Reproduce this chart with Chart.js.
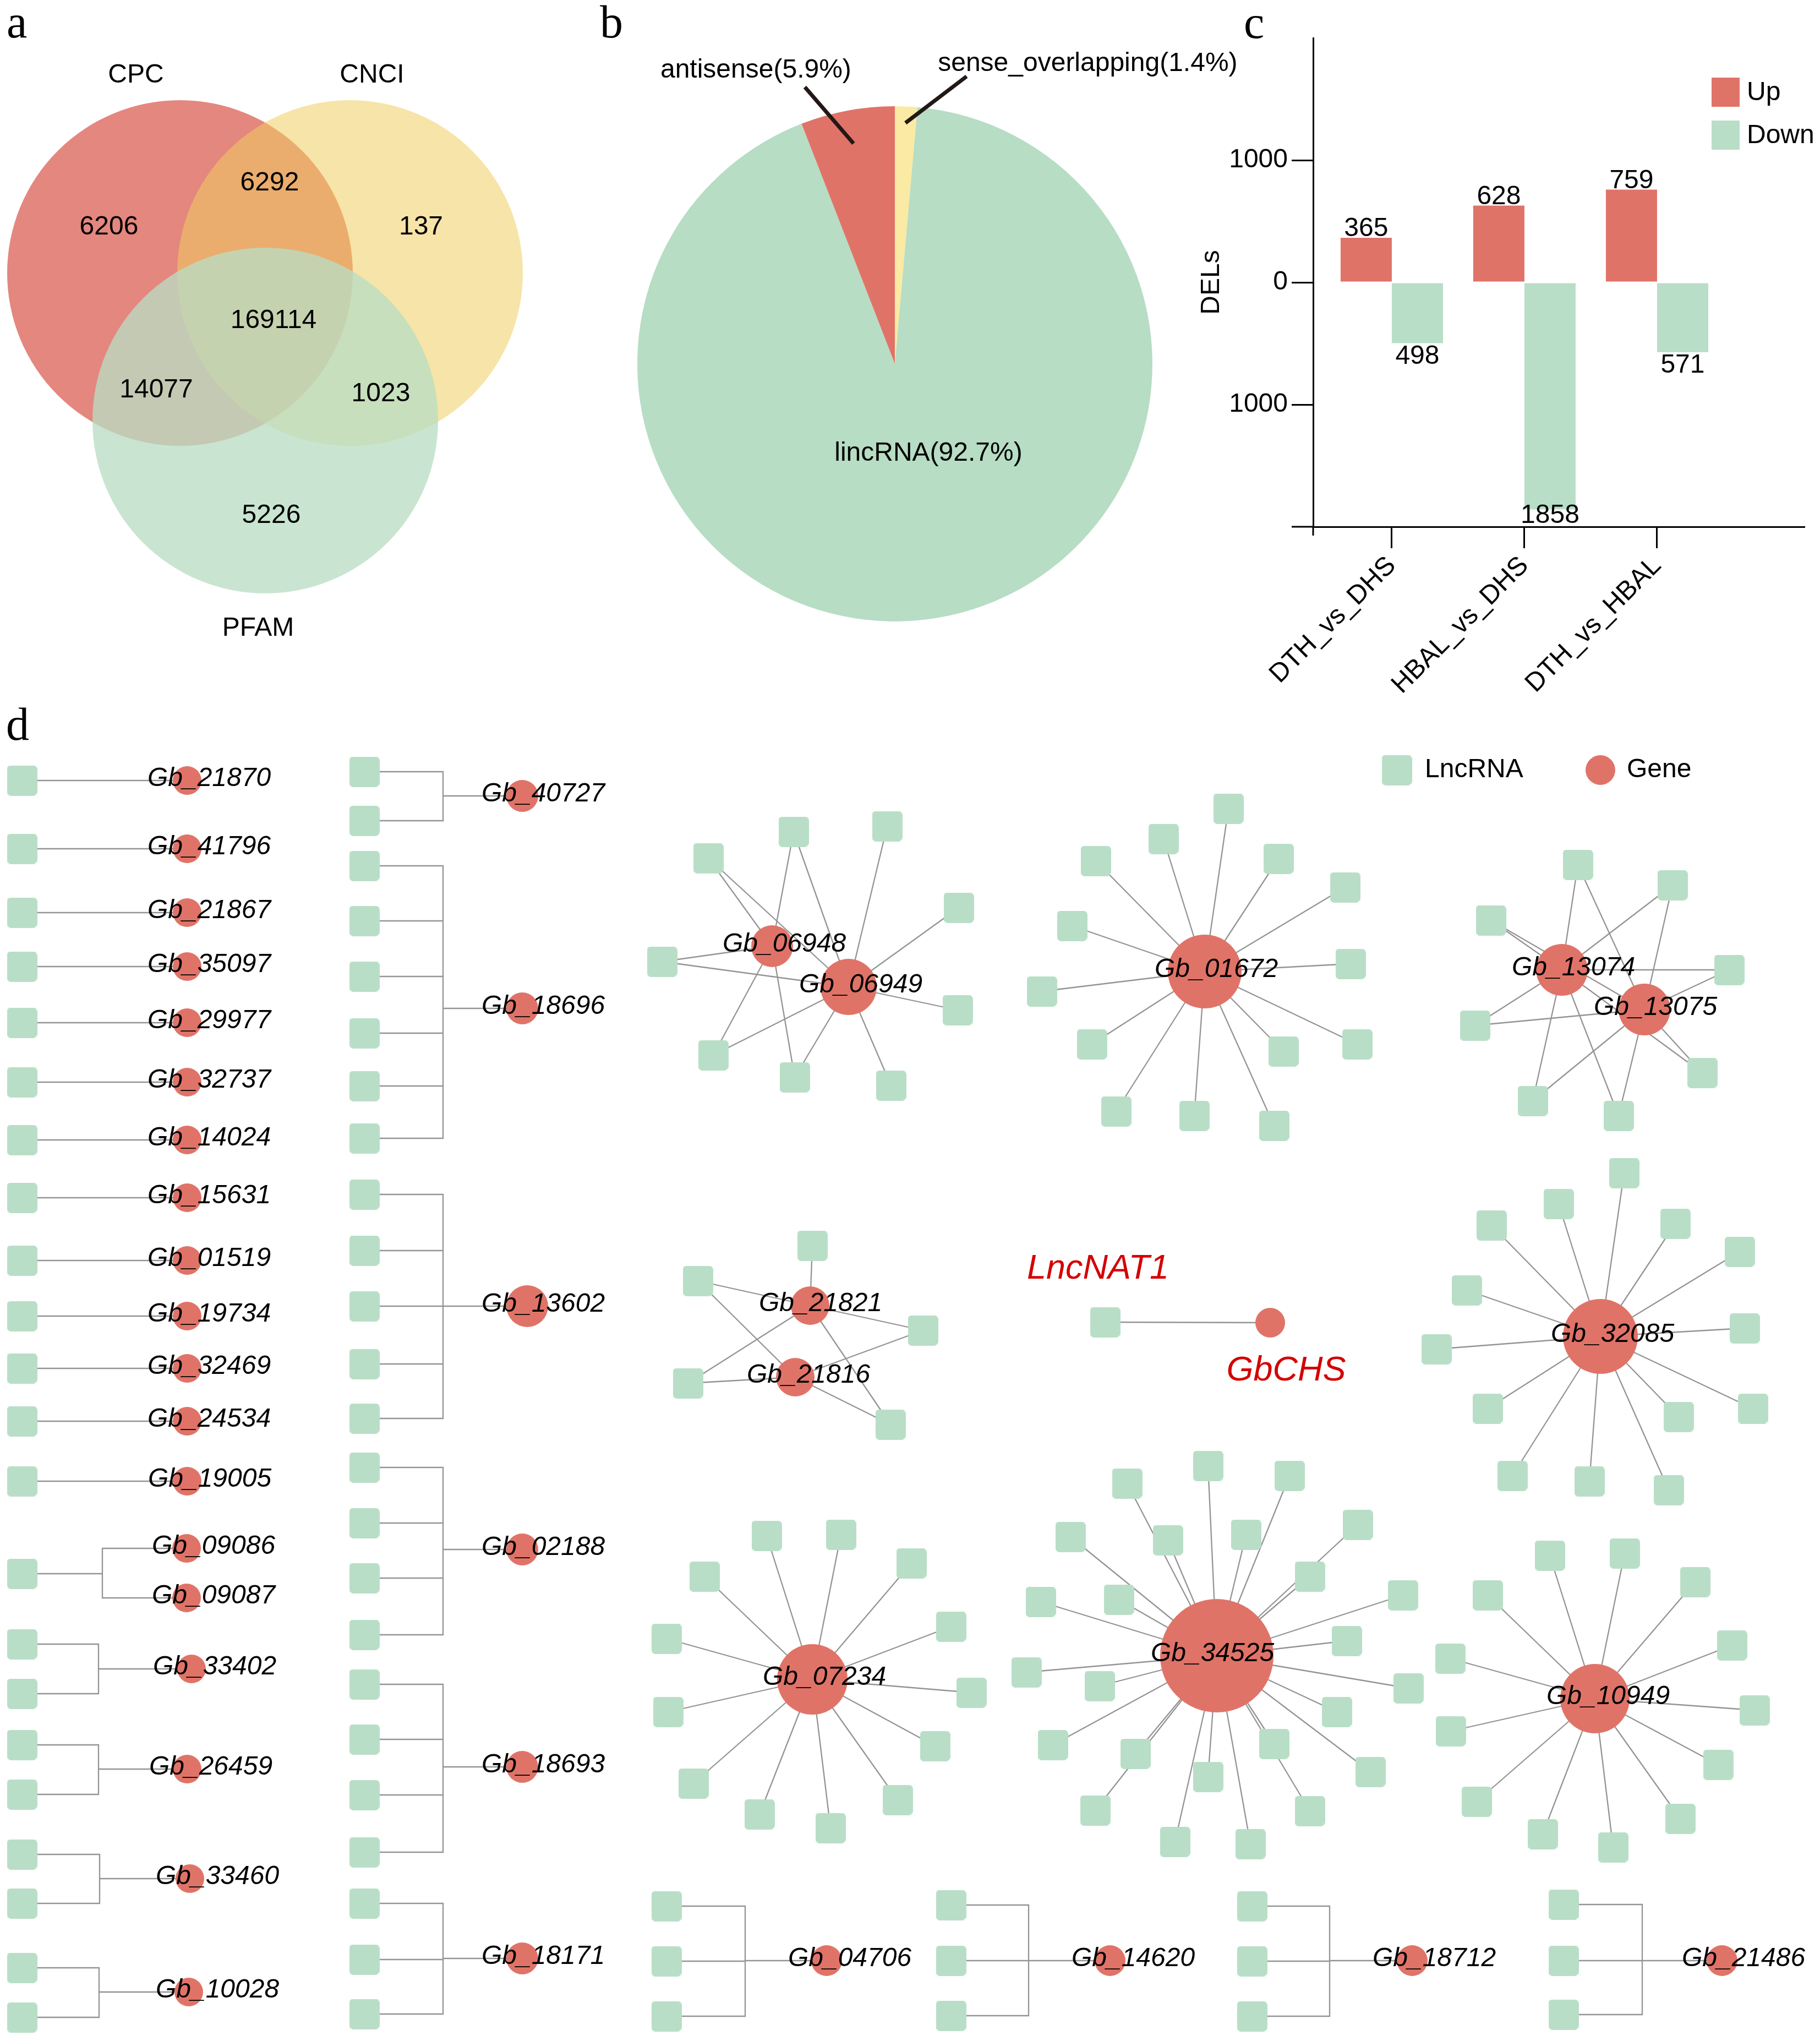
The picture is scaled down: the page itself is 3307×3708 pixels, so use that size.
<!DOCTYPE html>
<html>
<head>
<meta charset="utf-8">
<script src="https://cdn.jsdelivr.net/npm/chart.js@4.4.1/dist/chart.umd.min.js"></script>
<style>
  html, body { margin: 0; padding: 0; background: #fff; }
  #page { position: relative; width: 3307px; height: 3708px; overflow: hidden; background: #fff; }
  #page canvas { position: absolute; }
  .tag { position: absolute; font-family: "Liberation Serif", "Times New Roman", serif; font-size: 84px; line-height: 84px; color: #000; }
</style>
</head>
<body>
<div id="page">
  <canvas id="venn" width="1090" height="1275" style="left:0;top:0;width:1090px;height:1275px"></canvas>
  <canvas id="pie" width="1210" height="1275" style="left:1090px;top:0;width:1210px;height:1275px"></canvas>
  <canvas id="bar" width="1167" height="1275" style="left:2140px;top:0;width:1167px;height:1275px"></canvas>
  <canvas id="net" width="3307" height="2433" style="left:0;top:1275px;width:3307px;height:2433px"></canvas>
  <div class="tag" style="left:12px;top:-2px">a</div>
  <div class="tag" style="left:1090px;top:-2px">b</div>
  <div class="tag" style="left:2260px;top:-1px">c</div>
  <div class="tag" style="left:11px;top:1274px">d</div>
</div>
<script>
// ---------- data ----------
// a: Venn
const vennSets = ['CPC', 'CNCI', 'PFAM'];
const vennRegions = ['CPC', 'CPC+CNCI', 'CNCI', 'CPC+CNCI+PFAM', 'CPC+PFAM', 'CNCI+PFAM', 'PFAM'];
const vennCounts = [6206, 6292, 137, 169114, 14077, 1023, 5226];

// b: lncRNA classes
const pieLabels = ['sense_overlapping', 'lincRNA', 'antisense'];
const piePercents = [1.4, 92.7, 5.9];

// c: differentially expressed lncRNAs
const comparisons = ['DTH_vs_DHS', 'HBAL_vs_DHS', 'DTH_vs_HBAL'];
const upDELs = [365, 628, 759];
const downDELs = [498, 1858, 571];
const delTicks = [-1000, 0, 1000];

// d: co-expression network (layout units)
// tree groups: gene, gene x, gene y, lncRNA x, elbow x (null = straight), lncRNA y's, node size, label shift
const treeGroups = [
  ['Gb_21870', 340, 1418, 40, null, [1418], 26, 40],
  ['Gb_41796', 340, 1542, 40, null, [1542], 26, 40],
  ['Gb_21867', 340, 1658, 40, null, [1658], 26, 40],
  ['Gb_35097', 340, 1756, 40, null, [1756], 26, 40],
  ['Gb_29977', 340, 1858, 40, null, [1858], 26, 40],
  ['Gb_32737', 340, 1966, 40, null, [1966], 26, 40],
  ['Gb_14024', 340, 2071, 40, null, [2071], 26, 40],
  ['Gb_15631', 340, 2176, 40, null, [2176], 26, 40],
  ['Gb_01519', 340, 2290, 40, null, [2290], 26, 40],
  ['Gb_19734', 340, 2391, 40, null, [2391], 26, 40],
  ['Gb_32469', 340, 2486, 40, null, [2486], 26, 40],
  ['Gb_24534', 340, 2582, 40, null, [2582], 26, 40],
  ['Gb_19005', 340, 2691, 40, null, [2691], 26, 41],
  ['Gb_09086', 339, 2813, 40, 186, [2859], 26, 49],
  ['Gb_09087', 339, 2903, 40, 186, [2859], 26, 49],
  ['Gb_33402', 348, 3032, 40, 179, [2987, 3077], 26, 42],
  ['Gb_26459', 340, 3214, 40, 179, [3170, 3260], 26, 43],
  ['Gb_33460', 345, 3413, 40, 181, [3369, 3458], 26, 50],
  ['Gb_10028', 343, 3619, 40, 180, [3575, 3665], 26, 52],
  ['Gb_40727', 949, 1446, 662, 805, [1402, 1491], 29, 38],
  ['Gb_18696', 949, 1832, 662, 805, [1573, 1673, 1774, 1877, 1973, 2068], 29, 38],
  ['Gb_13602', 958, 2373, 662, 805, [2170, 2272, 2373, 2478, 2577], 38, 29],
  ['Gb_02188', 949, 2815, 662, 805, [2666, 2767, 2867, 2970], 29, 38],
  ['Gb_18693', 949, 3210, 662, 805, [3060, 3160, 3261, 3365], 29, 38],
  ['Gb_18171', 949, 3558, 662, 805, [3458, 3560, 3659], 29, 38],
  ['Gb_04706', 1502, 3562, 1211, 1354, [3463, 3563, 3663], 28, 42],
  ['Gb_14620', 2017, 3562, 1728, 1869, [3461, 3562, 3662], 28, 42],
  ['Gb_18712', 2566, 3562, 2275, 2416, [3463, 3563, 3663], 28, 40],
  ['Gb_21486', 3129, 3562, 2841, 2984, [3460, 3562, 3660], 28, 39]
];

// hub genes: name, x, y, node size, label shift
const hubGenes = [
  ['Gb_06948', 1403, 1719, 38, 22],
  ['Gb_06949', 1542, 1793, 51, 22],
  ['Gb_01672', 2189, 1765, 67, 21],
  ['Gb_13074', 2838, 1762, 47, 21],
  ['Gb_13075', 2988, 1834, 47, 20],
  ['Gb_21821', 1472, 2372, 35, 19],
  ['Gb_21816', 1445, 2502, 35, 24],
  ['GbCHS', 2308, 2403, 27, 0],
  ['Gb_32085', 2908, 2428, 68, 22],
  ['Gb_07234', 1476, 3051, 64, 22],
  ['Gb_34525', 2211, 3008, 103, -8],
  ['Gb_10949', 2898, 3086, 63, 24]
];

// lncRNAs around hubs: x, y, linked genes
const N1 = 'Gb_06948 Gb_06949', N3 = 'Gb_13074 Gb_13075', N4 = 'Gb_21821 Gb_21816';
const hubLncRNAs = [
  [1287, 1559, N1], [1442, 1511, N1], [1612, 1501, 'Gb_06949'], [1742, 1649, 'Gb_06949'],
  [1203, 1747, N1], [1740, 1835, 'Gb_06949'], [1296, 1917, N1], [1444, 1957, N1], [1619, 1972, 'Gb_06949'],

  [2232, 1469, 'Gb_01672'], [2114, 1524, 'Gb_01672'], [2323, 1560, 'Gb_01672'], [1991, 1564, 'Gb_01672'],
  [2444, 1612, 'Gb_01672'], [1948, 1682, 'Gb_01672'], [2454, 1751, 'Gb_01672'], [1893, 1801, 'Gb_01672'],
  [1984, 1897, 'Gb_01672'], [2466, 1897, 'Gb_01672'], [2332, 1910, 'Gb_01672'], [2028, 2019, 'Gb_01672'],
  [2170, 2027, 'Gb_01672'], [2315, 2045, 'Gb_01672'],

  [2867, 1571, N3], [3039, 1608, N3], [2709, 1672, N3], [3142, 1762, N3],
  [2680, 1863, N3], [3093, 1949, N3], [2785, 2000, N3], [2941, 2027, N3],

  [1476, 2263, 'Gb_21821'], [1268, 2327, N4], [1677, 2417, N4], [1250, 2513, N4], [1618, 2588, N4],

  [2008, 2402, 'GbCHS'],

  [2951, 2131, 'Gb_32085'], [2832, 2187, 'Gb_32085'], [2710, 2226, 'Gb_32085'], [3044, 2223, 'Gb_32085'],
  [3161, 2274, 'Gb_32085'], [2665, 2344, 'Gb_32085'], [3170, 2413, 'Gb_32085'], [2610, 2451, 'Gb_32085'],
  [2703, 2559, 'Gb_32085'], [3185, 2559, 'Gb_32085'], [3050, 2574, 'Gb_32085'], [2748, 2681, 'Gb_32085'],
  [2888, 2691, 'Gb_32085'], [3032, 2707, 'Gb_32085'],

  [1393, 2790, 'Gb_07234'], [1528, 2788, 'Gb_07234'], [1280, 2864, 'Gb_07234'], [1656, 2840, 'Gb_07234'],
  [1728, 2955, 'Gb_07234'], [1211, 2977, 'Gb_07234'], [1765, 3075, 'Gb_07234'], [1214, 3110, 'Gb_07234'],
  [1699, 3172, 'Gb_07234'], [1260, 3240, 'Gb_07234'], [1631, 3270, 'Gb_07234'], [1380, 3296, 'Gb_07234'],
  [1509, 3321, 'Gb_07234'],

  [2195, 2663, 'Gb_34525'], [2048, 2695, 'Gb_34525'], [2343, 2681, 'Gb_34525'], [2467, 2770, 'Gb_34525'],
  [1945, 2792, 'Gb_34525'], [2122, 2798, 'Gb_34525'], [2264, 2788, 'Gb_34525'], [2380, 2864, 'Gb_34525'],
  [2549, 2898, 'Gb_34525'], [1891, 2910, 'Gb_34525'], [2033, 2906, 'Gb_34525'], [2447, 2981, 'Gb_34525'],
  [1865, 3038, 'Gb_34525'], [1998, 3063, 'Gb_34525'], [2559, 3067, 'Gb_34525'], [2429, 3110, 'Gb_34525'],
  [1913, 3170, 'Gb_34525'], [2315, 3168, 'Gb_34525'], [2063, 3186, 'Gb_34525'], [2490, 3219, 'Gb_34525'],
  [2195, 3228, 'Gb_34525'], [1990, 3289, 'Gb_34525'], [2380, 3290, 'Gb_34525'], [2135, 3346, 'Gb_34525'],
  [2272, 3350, 'Gb_34525'],

  [2816, 2826, 'Gb_10949'], [2952, 2822, 'Gb_10949'], [2703, 2898, 'Gb_10949'], [3080, 2874, 'Gb_10949'],
  [3147, 2989, 'Gb_10949'], [2635, 3013, 'Gb_10949'], [3188, 3107, 'Gb_10949'], [2636, 3145, 'Gb_10949'],
  [3122, 3206, 'Gb_10949'], [2683, 3273, 'Gb_10949'], [3053, 3304, 'Gb_10949'], [2803, 3332, 'Gb_10949'],
  [2931, 3356, 'Gb_10949']
];
const highlightPair = ['LncNAT1', 'GbCHS'];

// ---------- styles ----------
const FONT = '"Liberation Sans", Arial, sans-serif';
const RED = '#E07368';
const GREEN = '#B9DEC7';
Chart.defaults.font.family = FONT;
Chart.defaults.color = '#000';

const base = {
  responsive: false,
  animation: false,
  devicePixelRatio: 1,
  events: [],
  plugins: { legend: { display: false }, tooltip: { enabled: false } }
};

// pixels per layout unit on a chart's x scale (1 before layout is done)
function unitPx(chart, span) {
  const s = chart.scales && chart.scales.x;
  return s && s.width ? s.width / span : 1;
}

// ---------- a: Venn ----------
const vennCircles = [{ x: 327, y: 496 }, { x: 636, y: 496 }, { x: 482, y: 764 }];
const vennRadius = 314;
const vennFill = ['rgb(228,135,127)', 'rgba(240,205,94,0.54)', 'rgba(185,221,195,0.77)'];
const vennSetAt = [[247, 150], [676, 150], [469, 1155]];
const vennCountAt = [[198, 413], [490, 333], [765, 413], [497, 583], [284, 709], [692, 716], [493, 937]];

const vennText = {
  id: 'vennText',
  afterDatasetsDraw(chart) {
    const { ctx, scales: { x, y } } = chart;
    ctx.save();
    ctx.fillStyle = '#000';
    ctx.font = `48px ${FONT}`;
    ctx.textAlign = 'center';
    ctx.textBaseline = 'alphabetic';
    vennSets.forEach((s, i) => ctx.fillText(s, x.getPixelForValue(vennSetAt[i][0]), y.getPixelForValue(vennSetAt[i][1])));
    ctx.textBaseline = 'middle';
    vennCounts.forEach((c, i) => ctx.fillText(String(c), x.getPixelForValue(vennCountAt[i][0]), y.getPixelForValue(vennCountAt[i][1])));
    ctx.restore();
  }
};

new Chart(document.getElementById('venn'), {
  type: 'scatter',
  data: {
    datasets: vennSets.map((name, i) => ({
      label: name,
      data: [vennCircles[i]],
      order: 3 - i,
      clip: false,
      pointRadius: ctx => vennRadius * unitPx(ctx.chart, 1090),
      pointBackgroundColor: vennFill[i],
      pointBorderWidth: 0
    }))
  },
  options: {
    ...base,
    layout: { padding: 0, autoPadding: false },
    scales: {
      x: { type: 'linear', min: 0, max: 1090, display: false },
      y: { type: 'linear', min: 0, max: 1275, reverse: true, display: false }
    }
  },
  plugins: [vennText]
});

// ---------- b: pie ----------
// callouts per slice: leader start/end (radius factor, turn in degrees), text offset from leader end
const pieCallouts = [
  { r0: 0.936, t0: 0, r1: 1.15, t1: 11.5, dx: 220, dy: -10 },
  { inside: true, r1: 0.372, t1: -12.4 },
  { r0: 0.87, t0: 0, r1: 1.13, t1: -7.4, dx: -89, dy: -17 }
];

const pieText = {
  id: 'pieText',
  afterDatasetsDraw(chart) {
    const { ctx } = chart;
    const arcs = chart.getDatasetMeta(0).data;
    ctx.save();
    ctx.font = `48px ${FONT}`;
    ctx.fillStyle = '#000';
    arcs.forEach((arc, i) => {
      const c = pieCallouts[i];
      const mid = (arc.startAngle + arc.endAngle) / 2;
      const at = (rf, t) => {
        const a = mid + t * Math.PI / 180;
        return [arc.x + Math.cos(a) * arc.outerRadius * rf, arc.y + Math.sin(a) * arc.outerRadius * rf];
      };
      const text = `${pieLabels[i]}(${piePercents[i]}%)`;
      const [ex, ey] = at(c.r1, c.t1);
      if (c.inside) {
        ctx.textAlign = 'center';
        ctx.textBaseline = 'middle';
        ctx.fillText(text, ex, ey);
        return;
      }
      const [sx, sy] = at(c.r0, c.t0);
      ctx.strokeStyle = '#231815';
      ctx.lineWidth = 7;
      ctx.beginPath();
      ctx.moveTo(sx, sy);
      ctx.lineTo(ex, ey);
      ctx.stroke();
      ctx.textAlign = 'center';
      ctx.textBaseline = 'alphabetic';
      ctx.fillText(text, ex + c.dx, ey + c.dy);
    });
    ctx.restore();
  }
};

new Chart(document.getElementById('pie'), {
  type: 'pie',
  data: {
    labels: pieLabels,
    datasets: [{ data: piePercents, backgroundColor: ['#FAEAA3', '#B7DDC4', RED], borderWidth: 0 }]
  },
  options: {
    ...base,
    rotation: 0,
    layout: { padding: { left: 68, right: 206, top: 193, bottom: 146 }, autoPadding: false }
  },
  plugins: [pieText]
});

// ---------- c: bars ----------
const barExtras = {
  id: 'barExtras',
  afterDatasetsDraw(chart) {
    const { ctx, chartArea } = chart;
    ctx.save();
    ctx.font = `48px ${FONT}`;
    ctx.fillStyle = '#000';
    ctx.textAlign = 'center';
    ctx.textBaseline = 'alphabetic';
    chart.data.datasets.forEach((ds, di) => {
      chart.getDatasetMeta(di).data.forEach((bar, i) => {
        const counts = di === 0 ? upDELs : downDELs;
        if (bar.y <= bar.base) ctx.fillText(String(counts[i]), bar.x, bar.y - 3);
        else ctx.fillText(String(counts[i]), bar.x, Math.min(bar.y + 37, chartArea.bottom - 7));
      });
    });
    // legend
    ctx.textAlign = 'left';
    ctx.textBaseline = 'middle';
    chart.data.datasets.forEach((ds, di) => {
      const lx = chartArea.right - 168;
      const ly = chartArea.top + 72 + di * 78;
      ctx.fillStyle = ds.backgroundColor;
      ctx.fillRect(lx, ly, 51, 53);
      ctx.fillStyle = '#000';
      ctx.fillText(ds.label, lx + 64, ly + 28);
    });
    // axis line stubs
    ctx.strokeStyle = '#000';
    ctx.lineWidth = 3;
    ctx.beginPath();
    ctx.moveTo(chartArea.left - 39, chartArea.bottom);
    ctx.lineTo(chartArea.left, chartArea.bottom);
    ctx.moveTo(chartArea.left, chartArea.bottom);
    ctx.lineTo(chartArea.left, chartArea.bottom + 16);
    ctx.stroke();
    ctx.restore();
  }
};

new Chart(document.getElementById('bar'), {
  type: 'bar',
  data: {
    datasets: [
      { label: 'Up', data: comparisons.map((c, i) => ({ x: i + 1, y: upDELs[i] })), backgroundColor: RED },
      { label: 'Down', data: comparisons.map((c, i) => ({ x: i + 1, y: -downDELs[i] })), backgroundColor: GREEN }
    ]
  },
  options: {
    ...base,
    layout: { padding: { top: 69, right: 29, left: 0, bottom: 0 }, autoPadding: false },
    datasets: { bar: { categoryPercentage: 0.772, barPercentage: 1, borderWidth: 0 } },
    scales: {
      x: {
        type: 'linear', min: 0.407, max: 4.108, offset: false,
        afterBuildTicks: s => { s.ticks = comparisons.map((c, i) => ({ value: i + 1 })); },
        afterFit: s => { s.height = 318; },
        ticks: {
          callback: v => comparisons[v - 1] || '',
          autoSkip: false, minRotation: 45, maxRotation: 45,
          font: { size: 48 }, color: '#000', padding: 4
        },
        grid: { offset: false, drawOnChartArea: false, drawTicks: true, tickLength: 39, color: '#000', lineWidth: 3 },
        border: { display: true, color: '#000', width: 3 }
      },
      y: {
        type: 'linear', min: -2000, max: 2000,
        afterBuildTicks: s => { s.ticks = delTicks.map(v => ({ value: v })); },
        afterFit: s => { s.width = 246; },
        ticks: { callback: v => String(Math.abs(v)), font: { size: 48 }, color: '#000', padding: 7 },
        grid: { drawOnChartArea: false, drawTicks: true, tickLength: 39, color: '#000', lineWidth: 3 },
        border: { display: true, color: '#000', width: 3 },
        title: { display: true, text: 'DELs', font: { size: 48 }, color: '#000', padding: { top: 33, bottom: 0 } }
      }
    }
  },
  plugins: [barExtras]
});

// ---------- d: network ----------
const lncPoints = [];
const genePoints = [];
const edgePoints = [];
const seen = new Set();
function addLnc(x, y) {
  const k = x + ',' + y;
  if (!seen.has(k)) { seen.add(k); lncPoints.push({ x, y }); }
}
const gap = { x: null, y: null };

treeGroups.forEach(([name, gx, gy, lx, ex, lys, size, dx]) => {
  genePoints.push({ x: gx, y: gy, r: size, name, dx });
  lys.forEach(ly => {
    addLnc(lx, ly);
    edgePoints.push({ x: lx, y: ly });
    if (ex !== null) edgePoints.push({ x: ex, y: ly }, { x: ex, y: gy });
    edgePoints.push({ x: gx, y: gy }, gap);
  });
});

const hubByName = {};
hubGenes.forEach(([name, x, y, size, dx]) => {
  hubByName[name] = { x, y };
  genePoints.push({ x, y, r: size, name, dx });
});
hubLncRNAs.forEach(([x, y, genes]) => {
  addLnc(x, y);
  genes.split(' ').forEach(g => {
    const h = hubByName[g];
    edgePoints.push({ x, y }, { x: h.x, y: h.y }, gap);
  });
});

function roundSquare(side, rad, color) {
  const c = document.createElement('canvas');
  c.width = side; c.height = side;
  const g = c.getContext('2d');
  g.fillStyle = color;
  g.beginPath();
  g.moveTo(rad, 0);
  g.arcTo(side, 0, side, side, rad);
  g.arcTo(side, side, 0, side, rad);
  g.arcTo(0, side, 0, 0, rad);
  g.arcTo(0, 0, side, 0, rad);
  g.closePath();
  g.fill();
  return c;
}
const lncMark = roundSquare(55, 7, GREEN);

const netText = {
  id: 'netText',
  afterDatasetsDraw(chart) {
    const { ctx, scales: { x, y } } = chart;
    ctx.save();
    ctx.fillStyle = '#000';
    ctx.font = `italic 48px ${FONT}`;
    ctx.textAlign = 'center';
    ctx.textBaseline = 'middle';
    genePoints.forEach(g => {
      if (g.name === highlightPair[1]) return;
      ctx.fillText(g.name, x.getPixelForValue(g.x) + g.dx, y.getPixelForValue(g.y) - 3);
    });
    // highlighted pair
    const h = hubByName[highlightPair[1]];
    const l = hubLncRNAs.find(r => r[2] === highlightPair[1]);
    ctx.fillStyle = '#D40000';
    ctx.font = `italic 63px ${FONT}`;
    ctx.fillText(highlightPair[0], x.getPixelForValue(l[0]) - 13, y.getPixelForValue(l[1]) - 97);
    ctx.fillText(highlightPair[1], x.getPixelForValue(h.x) + 29, y.getPixelForValue(h.y) + 87);
    // legend
    const lgY = y.getPixelForValue(1399);
    ctx.drawImage(lncMark, x.getPixelForValue(2538) - 27.5, lgY - 27.5);
    ctx.fillStyle = RED;
    ctx.beginPath();
    ctx.arc(x.getPixelForValue(2908), lgY, 27, 0, Math.PI * 2);
    ctx.fill();
    ctx.fillStyle = '#000';
    ctx.font = `48px ${FONT}`;
    ctx.textAlign = 'left';
    ctx.fillText('LncRNA', x.getPixelForValue(2589), lgY);
    ctx.fillText('Gene', x.getPixelForValue(2956), lgY);
    ctx.restore();
  }
};

new Chart(document.getElementById('net'), {
  type: 'scatter',
  data: {
    datasets: [
      { label: 'links', data: edgePoints, showLine: true, spanGaps: false, pointRadius: 0,
        borderColor: '#949494', borderWidth: 2.3, order: 3, clip: false },
      { label: 'LncRNA', data: lncPoints, pointStyle: lncMark, pointRadius: 27, order: 2, clip: false },
      { label: 'Gene', data: genePoints, pointStyle: 'circle', order: 1, clip: false,
        pointRadius: ctx => (ctx.raw ? ctx.raw.r : 27) * unitPx(ctx.chart, 3307),
        pointBackgroundColor: RED, pointBorderWidth: 0 }
    ]
  },
  options: {
    ...base,
    layout: { padding: 0, autoPadding: false },
    scales: {
      x: { type: 'linear', min: 0, max: 3307, display: false },
      y: { type: 'linear', min: 1275, max: 3708, reverse: true, display: false }
    }
  },
  plugins: [netText]
});
</script>
</body>
</html>
